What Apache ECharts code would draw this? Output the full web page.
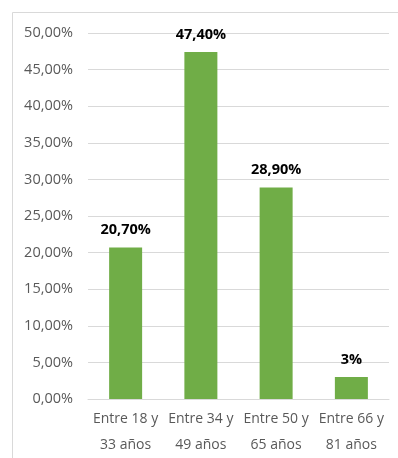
<!DOCTYPE html>
<html>
<head>
<meta charset="utf-8">
<script src="https://cdn.jsdelivr.net/npm/echarts@6/dist/echarts.min.js"></script>
<style>
  html, body { margin: 0; padding: 0; background: #fff; }
  #chart { width: 398px; height: 458px; }
</style>
</head>
<body>
<div id="chart"></div>
<script>
// Age groups and share of respondents (percent)
const categories = ['Entre 18 y\n33 años', 'Entre 34 y\n49 años', 'Entre 50 y\n65 años', 'Entre 66 y\n81 años'];
const values = [20.7, 47.4, 28.9, 3];
const valueLabels = ['20,70%', '47,40%', '28,90%', '3%'];
const yTicks = [0, 5, 10, 15, 20, 25, 30, 35, 40, 45, 50];

const FONT = 'Open Sans';

const chart = echarts.init(document.getElementById('chart'), null, { renderer: 'canvas' });

chart.setOption({
  animation: false,
  backgroundColor: '#ffffff',
  grid: { left: 88, right: 9, top: 33, bottom: 56, containLabel: false },
  graphic: [
    {
      type: 'polyline',
      silent: true,
      shape: { points: [[12.5, 458], [12.5, 12.5], [398, 12.5]] },
      style: { stroke: '#d9d9d9', lineWidth: 1, fill: null }
    }
  ],
  xAxis: {
    type: 'category',
    data: categories,
    axisTick: { show: false },
    axisLine: { show: true, lineStyle: { color: '#d9d9d9', width: 1 } },
    axisLabel: {
      color: '#595959',
      fontFamily: FONT,
      fontSize: 14,
      lineHeight: 26,
      margin: 7,
      interval: 0
    }
  },
  yAxis: {
    type: 'value',
    min: yTicks[0],
    max: yTicks[yTicks.length - 1],
    interval: 5,
    axisLine: { show: false },
    axisTick: { show: false },
    splitLine: { lineStyle: { color: '#d9d9d9', width: 1 } },
    axisLabel: {
      color: '#595959',
      fontFamily: FONT,
      fontSize: 14.5,
      margin: 15,
      formatter: v => v.toFixed(2).replace('.', ',') + '%'
    }
  },
  series: [
    {
      type: 'bar',
      data: values,
      barWidth: 33,
      itemStyle: { color: '#70ad47' },
      label: {
        show: true,
        position: 'top',
        distance: 10,
        color: '#000000',
        fontFamily: FONT,
        fontWeight: 'bold',
        fontSize: 14.5,
        formatter: p => valueLabels[p.dataIndex]
      }
    }
  ]
});
</script>
</body>
</html>
